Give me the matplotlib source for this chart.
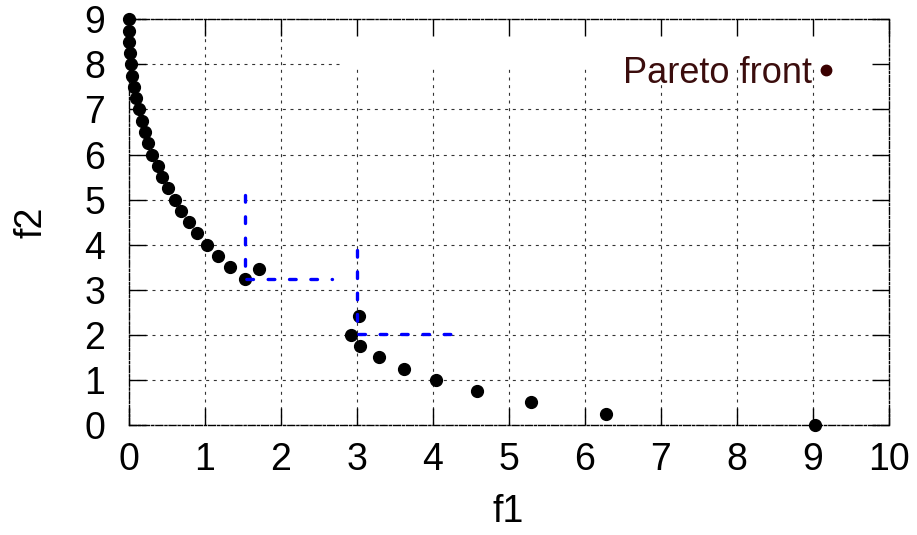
import numpy as np
import matplotlib
matplotlib.use('Agg')
from matplotlib import pyplot as plt
from matplotlib.patches import Rectangle
from matplotlib.lines import Line2D

plt.rcParams['font.family'] = ['Liberation Sans', 'DejaVu Sans']

# points
f1 = [0.00, 0.01, 0.01, 0.02, 0.03, 0.04, 0.07, 0.10, 0.13, 0.17, 0.21, 0.26,
      0.31, 0.38, 0.44, 0.52, 0.61, 0.69, 0.80, 0.90, 1.03, 1.17, 1.34, 1.53,
      1.71, 2.93, 3.03, 3.04, 3.29, 3.62, 4.05, 4.59, 5.29, 6.28, 9.03]
f2 = [9.00, 8.75, 8.50, 8.25, 8.00, 7.75, 7.50, 7.25, 7.00, 6.75, 6.50, 6.25,
      6.00, 5.75, 5.50, 5.25, 5.00, 4.75, 4.50, 4.25, 4.00, 3.75, 3.50, 3.25,
      3.47, 2.00, 2.42, 1.75, 1.50, 1.25, 1.00, 0.75, 0.50, 0.25, 0.00]

# blue dashed corners (vertical part then horizontal part)
corner1_x = [1.53, 1.53, 2.67]
corner1_y = [5.10, 3.25, 3.25]
corner2_x = [3.00, 3.00, 4.40]
corner2_y = [3.88, 2.02, 2.02]

xticks = list(range(0, 11))
yticks = list(range(0, 10))

fig = plt.figure(figsize=(9.17, 5.35), dpi=100)
ax = fig.add_axes([0.1403, 0.2056, 0.8288, 0.7583])
ax.set_xlim(0, 10)
ax.set_ylim(0, 9)

# gnuplot style dotted grid
for x in xticks:
    ax.axvline(x, color='#333333', lw=0.8, ls=(0, (2.7, 4.2)), zorder=0.3)
for y in yticks:
    ax.axhline(y, color='#333333', lw=0.8, ls=(0, (2.7, 4.2)), zorder=0.3)
# key area wipes out the grid behind it
ax.add_patch(Rectangle((2.81, 7.93), 7.19, 1.07, facecolor='white',
                       edgecolor='none', zorder=0.4))

ax.plot(f1, f2, 'o', color='black', ms=8.5, clip_on=False, zorder=3)
ax.plot(corner1_x, corner1_y, color='#0000ff', lw=2.4, ls=(0, (2.0, 4.4)),
        dash_capstyle='round', solid_capstyle='round', zorder=4)
ax.plot(corner2_x, corner2_y, color='#0000ff', lw=2.4, ls=(0, (2.0, 4.4)),
        dash_capstyle='round', solid_capstyle='round', zorder=4)

ax.set_xticks(xticks)
ax.set_yticks(yticks)
ax.tick_params(direction='in', length=12, width=1, top=True, right=True,
               labelsize=27)
ax.tick_params(axis='x', pad=12)
ax.tick_params(axis='y', pad=17)
for s in ax.spines.values():
    s.set_linestyle((0, (5, 1.5, 1.5, 1.5)))
    s.set_linewidth(1)

ax.set_xlabel('f1', fontsize=27, va='center')
ax.xaxis.set_label_coords(0.5, -0.215)
ax.set_ylabel('f2', fontsize=27, va='center')
ax.yaxis.set_label_coords(-0.128, 0.5)

h = Line2D([], [], marker='o', color='#3a0000', ls='none', ms=7.5)
fig.legend([h], ['Pareto front'], loc='center right',
           bbox_to_anchor=(0.9084, 0.8626), markerfirst=False, frameon=False,
           fontsize=26, labelcolor='#3b0d0d', handlelength=0.4,
           handletextpad=0.17, borderpad=0, borderaxespad=0)

plt.savefig('out.png', dpi=100)
